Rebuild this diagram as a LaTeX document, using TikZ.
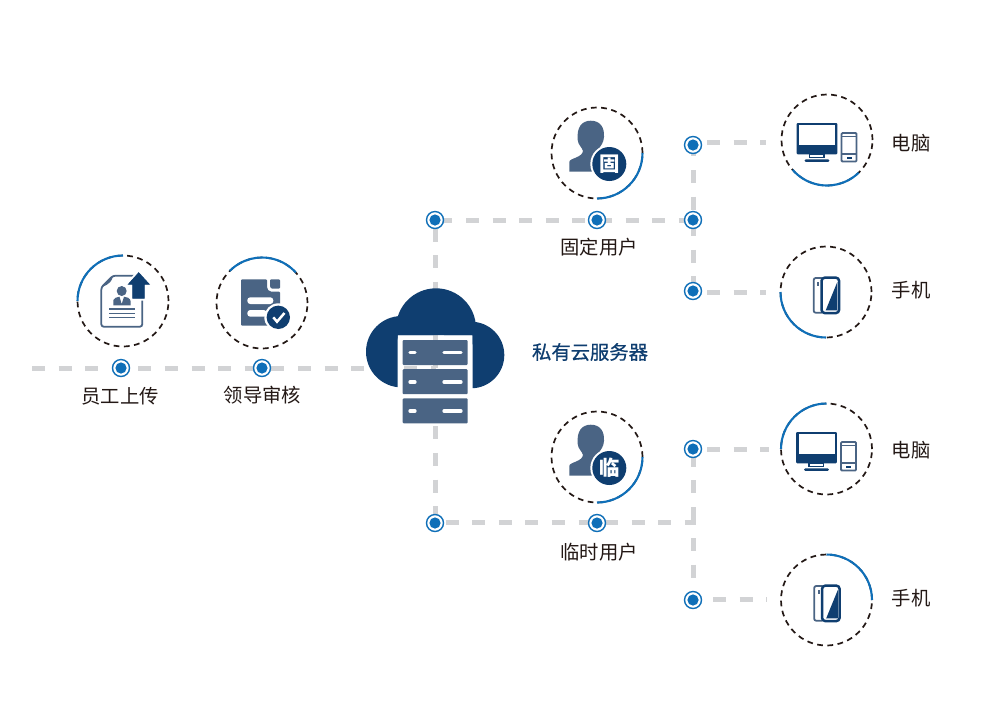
\documentclass[tikz,border=0pt]{standalone}
\usepackage{fontspec}
\setmainfont{Noto Sans CJK SC}
\newfontfamily\cjkmed[FakeBold=0.6]{Noto Sans CJK SC}
\usetikzlibrary{backgrounds}
\definecolor{cloudblue}{HTML}{0F3E70}
\definecolor{slateblue}{HTML}{4A6484}
\definecolor{dotblue}{HTML}{0F6FB8}
\definecolor{linegray}{HTML}{D2D3D5}
\definecolor{inkdark}{HTML}{231815}
\tikzset{
link/.style={draw=linegray,line width=.1cm,dash pattern=on .26cm off .272cm},
dot/.style={circle,draw=dotblue,line width=.028cm,fill=white,minimum size=.34cm,inner sep=0pt,path picture={\fill[dotblue] (path picture bounding box.center) circle (5.6);}},
ring/.style={circle,draw=inkdark,line width=.034cm,dash pattern=on .115cm off .09cm,minimum size=1.82cm,inner sep=0pt},
arcline/.style={draw=dotblue,line width=.042cm},
lab/.style={font=\fontsize{11}{12}\selectfont,text=inkdark,inner sep=0pt},
badgetext/.style={font=\fontsize{11.6}{12}\selectfont\bfseries,text=white,inner sep=0pt},
slab/.style={fill=slateblue,rounded corners=.02cm},
slabbar/.style={draw=white,line width=.066cm,line cap=round},
pcicon/.pic={
\fill[cloudblue,rounded corners=.02cm] (-30.3,-17) rectangle (10.3,14.3);
\fill[white] (-28,-14.7) rectangle (8.3,5.3);
\draw[cloudblue,line width=.03cm] (-17.7,14.3) rectangle (-3,17.3);
\fill[cloudblue,rounded corners=.02cm] (-22.3,19.4) rectangle (2.3,21.9);
\draw[slateblue,line width=.036cm,rounded corners=.02cm] (14.5,-7) rectangle (29.5,21.5);
\draw[slateblue,line width=.03cm] (14.5,-3.6) -- (29.5,-3.6) (14.5,14) -- (29.5,14);
\fill[cloudblue] (19.5,16.6) rectangle (24.5,18.6);
},
phoneicon/.pic={
\draw[slateblue,line width=.036cm,rounded corners=.04cm] (-12.3,-14) rectangle (-3,20.7);
\fill[slateblue] (-8.6,-10) rectangle (-7,-6);
\fill[white,rounded corners=.06cm] (-5,-15) rectangle (13.5,21.5);
\draw[cloudblue,line width=.05cm,rounded corners=.06cm] (-4.4,-14.3) rectangle (13,21);
\fill[cloudblue] (11.3,-10) -- (-.3,18.3) -- (11.3,18.3) -- cycle;
},
personicon/.pic={
\fill[slateblue] (-27.7,18.7) -- (-27.7,9) .. controls (-27.7,5) and (-15,5) .. (-14,-2)
 .. controls (-15,-6) and (-19,-8) .. (-19.3,-13) .. controls (-20.5,-26) and (-15,-32.3) .. (-6.3,-32.3)
 .. controls (3,-32.3) and (7.5,-26) .. (7,-16.3) .. controls (7,-10) and (3,-7) .. (1.3,-3) -- (12,15) -- (8,18.7) -- cycle;
\fill[white] (12.3,11) circle (19);
\fill[cloudblue] (12.3,11) circle (17);
},
}
\begin{document}
\begin{tikzpicture}[x=.02cm,y=-.02cm]
\useasboundingbox (0,0) rectangle (1000,718);
\begin{scope}[on background layer]
\fill[white] (0,0) rectangle (1000,718);
\end{scope}
% markers on the lines
\foreach \name/\x/\y in {dotupload/121/368,dotreview/262/368,dotrootup/435/220,dotfixed/597/220,dotfixedmid/693/220,dotfixedpc/693/145,dotfixedphone/693/291,dotrootdown/435/523,dottemp/597/523,dottemppc/693/449,dottempphone/693/600}{
\node[dot] (\name) at (\x,\y) {};
}
\coordinate (linestart) at (32,368.4);
\coordinate (server) at (435.6,368.4);
\coordinate (tempcorner) at (693.6,522);
\coordinate (fixedpcend) at (766,142);
\coordinate (fixedphoneend) at (766,292);
\coordinate (temppcend) at (769,449);
\coordinate (tempphoneend) at (767,599);
\begin{scope}[on background layer]
\draw[link] (linestart) -- (server);
\draw[link,dash phase=.356cm] (dotrootup.center -| server) -- (server);
\draw[link,dash phase=.436cm] (server) -- (dotrootdown.center -| server);
\draw[link,dash phase=.444cm] (dotrootup.center) -- (dotfixedmid.center);
\draw[link,dash phase=.032cm] (dotfixedpc.center -| tempcorner) -- (dotfixedphone.center -| tempcorner);
\draw[link,dash phase=.252cm] (dotfixedpc |- fixedpcend) -- (fixedpcend);
\draw[link,dash phase=.252cm] (dotfixedphone |- fixedphoneend) -- (fixedphoneend);
\draw[link,dash phase=.32cm] (dotrootdown |- tempcorner) -- ([xshift=.05cm]tempcorner);
\draw[link,dash phase=.436cm] (dottemppc.center -| tempcorner) -- (tempcorner);
\draw[link,dash phase=.212cm] (tempcorner) -- (dottempphone.center -| tempcorner);
\draw[link,dash phase=.252cm] (dottemppc.center) -- (temppcend);
\draw[link,dash phase=.132cm] (dottempphone |- tempphoneend) -- (tempphoneend);
\end{scope}
% dashed rings with blue arcs
\foreach \name/\x/\y/\a/\b in {ringupload/123/301/180/270,ringreview/262/303/225/318,ringfixed/597/153/0/90,ringtemp/597/457/0/90,ringfixedpc/827/140/46/139,ringfixedphone/826/292/90/180,ringtemppc/826.5/449/180/270,ringtempphone/826.5/600/270/360}{
\node[ring] (\name) at (\x,\y) {};
\draw[arcline] ([shift={(\a:45.5)}]\name.center) arc[start angle=\a,end angle=\b,radius=45.5];
}
% cloud with the server cut out
\begin{scope}[even odd rule]
\clip (0,0) rectangle (1000,718) (397.7,335) rectangle (472.7,440);
\fill[cloudblue] (401.7,351.7) circle (35.7);
\fill[cloudblue] (471,355) circle (33.3);
\fill[cloudblue] (436,328.3) circle (40);
\end{scope}
\foreach \y in {340,369.2,398.4}{
\fill[slab] (402.7,\y) rectangle (467.7,\y+25);
\draw[slabbar] (410,\y+12.7) -- (415,\y+12.7) (444,\y+12.7) -- (461,\y+12.7);
}
% upload icon
\begin{scope}[shift={(ringupload.center)}]
\draw[slateblue,line width=.036cm,rounded corners=.05cm] (-10,-25.3) -- (19.3,-25.3) -- (19.3,25.7) -- (-21.7,25.7) -- (-21.7,-13.7) -- cycle;
\fill[slateblue] (-21.7,-13.7) -- (-10,-25.3) .. controls (-11,-20) and (-13,-17) .. (-21.7,-13.7) -- cycle;
\fill[slateblue] (-1.3,-10) circle (5);
\fill[slateblue] (-9.7,4.3) -- (-9.7,-1) .. controls (-9,-3.5) and (-6,-3.5) .. (-3.5,-4.3) -- (-1.3,3) -- (1,-4.3) .. controls (3.5,-3.5) and (7,-3.5) .. (7.7,-1) -- (7.7,4.3) -- cycle;
\draw[slateblue,line width=.024cm] (-14,8) -- (12,8) (-14,12.3) -- (12,12.3) (-14,16.7) -- (12,16.7);
\filldraw[cloudblue,preaction={draw=white,line width=.09cm}] (15.7,-28.3) -- (26.3,-16.7) -- (21.3,-16.7) -- (21.3,-2.7) -- (9.7,-2.7) -- (9.7,-16.7) -- (5.3,-16.7) -- cycle;
\end{scope}
% review icon
\begin{scope}[shift={(ringreview.center)}]
\fill[slateblue,rounded corners=.02cm] (-21,-23.7) -- (5,-23.7) -- (5,-17) .. controls (5,-13.5) and (7,-11.5) .. (10,-11.5) -- (18,-11.5) -- (18,22.7) -- (-21,22.7) -- cycle;
\fill[slateblue,rounded corners=.02cm] (8,-23.7) -- (18,-23.7) -- (18,-14.5) -- (11,-14.5) .. controls (9,-14.5) and (8,-16) .. (8,-18) -- cycle;
\fill[white,rounded corners=.06cm] (-14.7,-5.7) rectangle (11.3,1);
\fill[white,rounded corners=.06cm] (-14.7,7) rectangle (4.7,13.7);
\fill[white] (16.3,14.3) circle (14);
\fill[cloudblue] (16.3,14.3) circle (11.7);
\draw[white,line width=.05cm] (11.3,14.3) -- (15,18.7) -- (22.5,10);
\end{scope}
% user and device icons
\pic at (ringfixed.center) {personicon};
\pic at (ringtemp.center) {personicon};
\pic at (ringfixedpc.center) {pcicon};
\pic at (ringtemppc.center) {pcicon};
\pic at (ringfixedphone.center) {phoneicon};
\pic at (ringtempphone.center) {phoneicon};
\node[badgetext] (badgefixed) at ([shift={(12.3,11)}]ringfixed.center) {固};
\node[badgetext] (badgetemp) at ([shift={(12.3,11)}]ringtemp.center) {临};
% labels
\node[lab] (labupload) at (120,396) {员工上传};
\node[lab] (labreview) at (262.5,395) {领导审核};
\node[lab] (labfixed) at (599,247) {固定用户};
\node[lab] (labtemp) at (599,552.5) {临时用户};
\node[lab] (labfixedpc) at (911,143) {电脑};
\node[lab] (labfixedphone) at (911,290) {手机};
\node[lab] (labtemppc) at (911,450) {电脑};
\node[lab] (labtempphone) at (911,598) {手机};
\node[lab,text=cloudblue,font=\fontsize{11}{12}\selectfont\cjkmed] (labserver) at (590,352) {私有云服务器};
\end{tikzpicture}
\end{document}
